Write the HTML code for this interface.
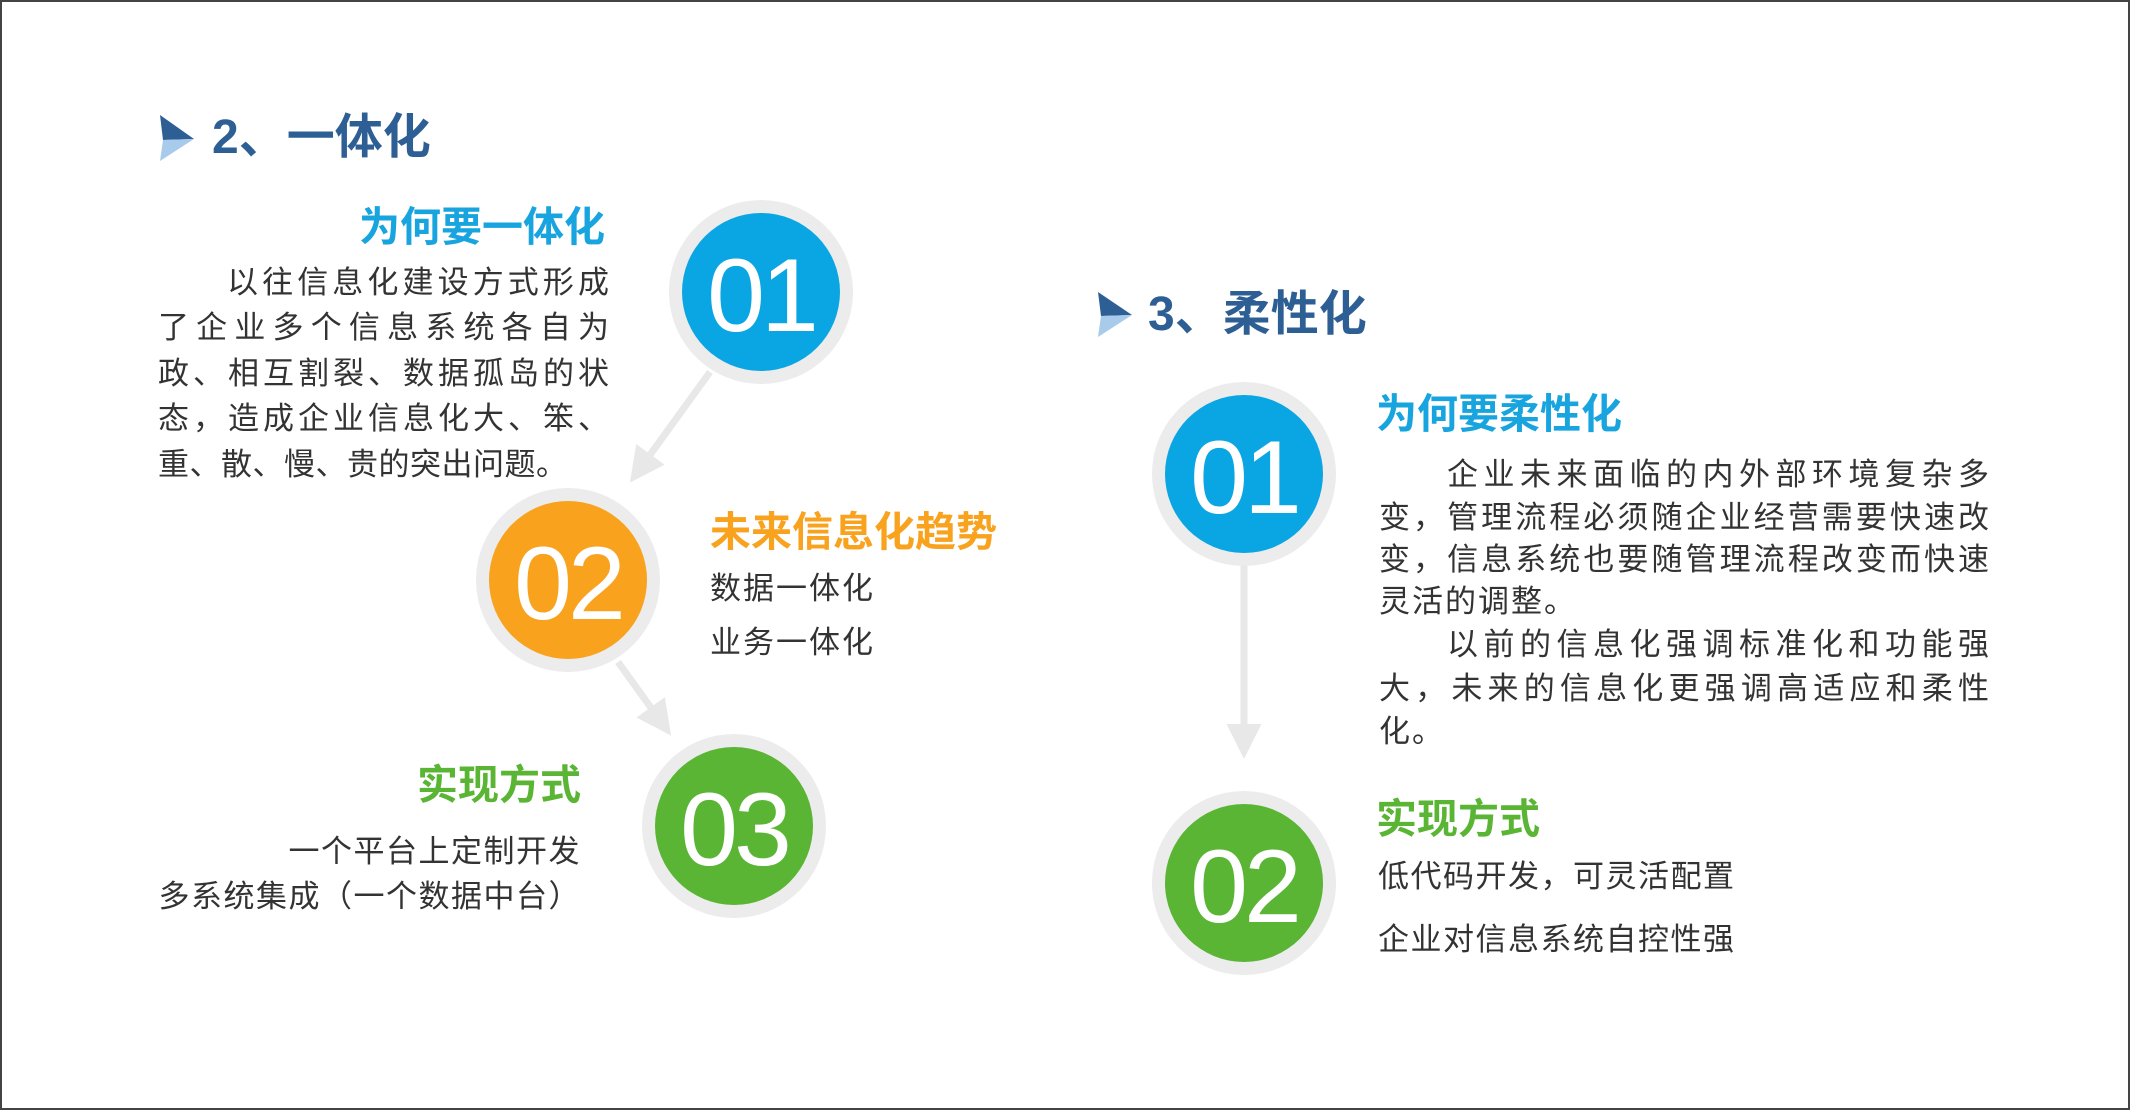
<!DOCTYPE html>
<html><head><meta charset="utf-8"><style>
html,body{margin:0;padding:0}
body{width:2130px;height:1110px;position:relative;background:#fff;overflow:hidden;font-family:"Liberation Sans","Noto Sans CJK SC",sans-serif}
.frame{position:absolute;left:0;top:0;width:2126px;height:1106px;border:2px solid #444}
.t{position:absolute;white-space:nowrap;line-height:1}
.h{font-weight:bold}
.b{color:#333;font-size:31px}
.j{text-align:justify;text-align-last:justify;white-space:nowrap}
svg{position:absolute;left:0;top:0}
.num{position:absolute;color:#fff;font-size:104px;line-height:1;text-align:center;width:200px;font-weight:normal;letter-spacing:-4px}
</style></head><body>
<div class="frame"></div>
<svg width="2130" height="1110">
<defs>
<marker id="ah" markerWidth="6" markerHeight="6" refX="4" refY="3" orient="auto" markerUnits="strokeWidth">
<path d="M0,0.5 L5,3 L0,5.5 Z" fill="#e8e8e8"/></marker>
</defs>
<polygon points="160,115 194,139 163,140" fill="#2e5f94"/>
<polygon points="163,140 194,139 160,161" fill="#a9cbeb"/>
<polygon points="1098,292 1132,315 1101,316" fill="#2e5f94"/>
<polygon points="1101,316 1132,315 1098,337" fill="#a9cbeb"/>
<line x1="710" y1="372" x2="634" y2="477" stroke="#e8e8e8" stroke-width="7" marker-end="url(#ah)"/>
<line x1="618" y1="662" x2="667" y2="730" stroke="#e8e8e8" stroke-width="7" marker-end="url(#ah)"/>
<line x1="1244" y1="560" x2="1244" y2="752" stroke="#e8e8e8" stroke-width="7" marker-end="url(#ah)"/>
<circle cx="761" cy="292" r="92" fill="#ececec"/><circle cx="761" cy="292" r="79" fill="#0aa5e3"/>
<circle cx="568" cy="580" r="92" fill="#ececec"/><circle cx="568" cy="580" r="79" fill="#f8a21d"/>
<circle cx="734" cy="826" r="92" fill="#ececec"/><circle cx="734" cy="826" r="79" fill="#5ab535"/>
<circle cx="1244" cy="474" r="92" fill="#ececec"/><circle cx="1244" cy="474" r="79" fill="#0aa5e3"/>
<circle cx="1244" cy="883" r="92" fill="#ececec"/><circle cx="1244" cy="883" r="79" fill="#5ab535"/>
</svg>
<div class="num" style="left:661px;top:244px">01</div>
<div class="num" style="left:468px;top:532px">02</div>
<div class="num" style="left:634px;top:778px">03</div>
<div class="num" style="left:1144px;top:426px">01</div>
<div class="num" style="left:1144px;top:835px">02</div>

<div class="t h" style="left:212px;top:114px;font-size:48px;color:#2e5f94">2、一体化</div>
<div class="t h" style="left:1148px;top:291px;font-size:48px;color:#2e5f94">3、柔性化</div>

<div class="t h" style="left:359px;top:207px;font-size:41px;color:#18a4de">为何要一体化</div>
<div class="t b j" style="left:158px;width:451px;top:267px;"><span style="padding-left:69px"></span>以往信息化建设方式形成</div>
<div class="t b j" style="left:158px;width:451px;top:312px;">了企业多个信息系统各自为</div>
<div class="t b j" style="left:158px;width:451px;top:358px;">政、相互割裂、数据孤岛的状</div>
<div class="t b j" style="left:158px;width:451px;top:403px;">态，造成企业信息化大、笨、</div>
<div class="t b" style="left:158px;top:449px;letter-spacing:0.5px">重、散、慢、贵的突出问题。</div>

<div class="t h" style="left:710px;top:512px;font-size:41px;color:#f8a21d">未来信息化趋势</div>
<div class="t b" style="left:710px;top:573px;letter-spacing:2px">数据一体化</div>
<div class="t b" style="left:710px;top:627px;letter-spacing:2px">业务一体化</div>

<div class="t h" style="right:1549px;top:765px;font-size:41px;color:#5ab535">实现方式</div>
<div class="t b" style="right:1549px;top:836px;letter-spacing:1.5px">一个平台上定制开发</div>
<div class="t b" style="right:1549px;top:881px;letter-spacing:1.5px">多系统集成（一个数据中台）</div>

<div class="t h" style="left:1376px;top:394px;font-size:41px;color:#18a4de">为何要柔性化</div>
<div class="t b j" style="left:1379px;width:610px;top:459px;"><span style="padding-left:68px"></span>企业未来面临的内外部环境复杂多</div>
<div class="t b j" style="left:1379px;width:610px;top:502px;">变，管理流程必须随企业经营需要快速改</div>
<div class="t b j" style="left:1379px;width:610px;top:544px;">变，信息系统也要随管理流程改变而快速</div>
<div class="t b" style="left:1379px;top:586px;letter-spacing:2px">灵活的调整。</div>
<div class="t b j" style="left:1379px;width:610px;top:629px;"><span style="padding-left:68px"></span>以前的信息化强调标准化和功能强</div>
<div class="t b j" style="left:1379px;width:610px;top:673px;">大，未来的信息化更强调高适应和柔性</div>
<div class="t b" style="left:1379px;top:716px;letter-spacing:2px">化。</div>

<div class="t h" style="left:1376px;top:799px;font-size:41px;color:#5ab535">实现方式</div>
<div class="t b" style="left:1378px;top:861px;letter-spacing:1.5px">低代码开发，可灵活配置</div>
<div class="t b" style="left:1378px;top:924px;letter-spacing:1.5px">企业对信息系统自控性强</div>
</body></html>
